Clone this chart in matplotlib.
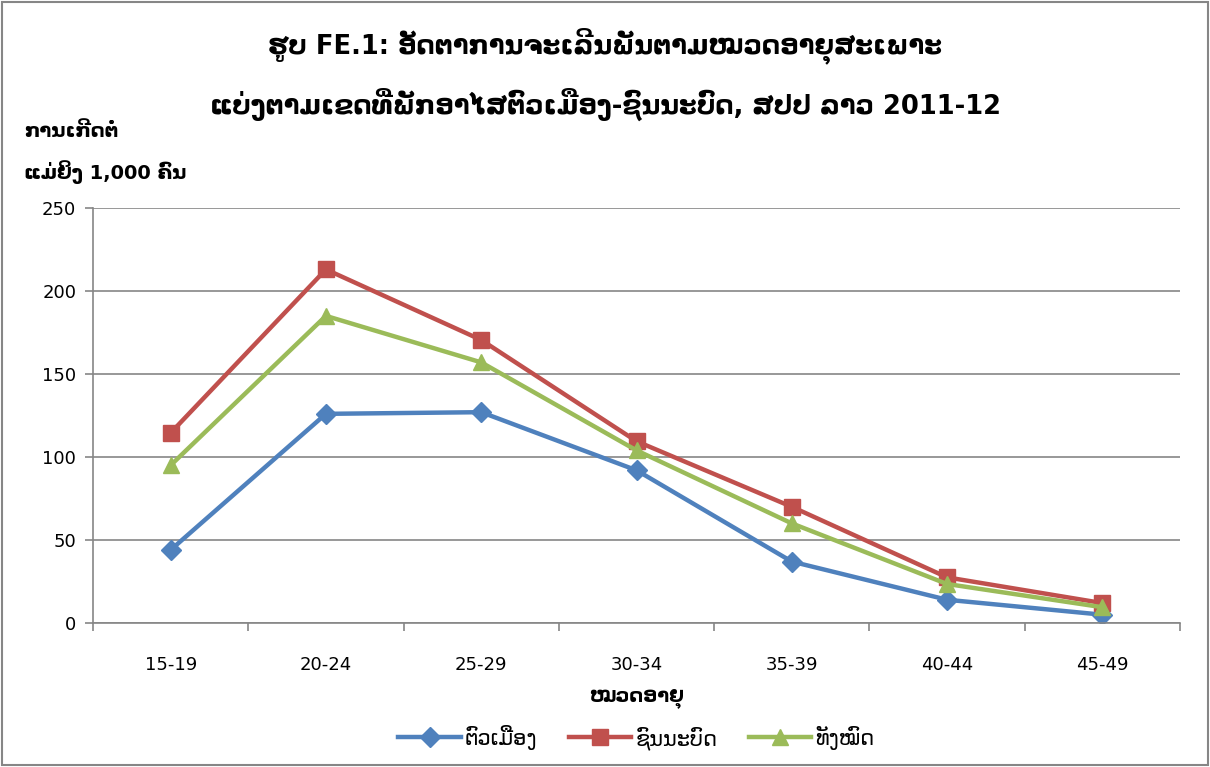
import matplotlib.pyplot as plt
from matplotlib.patches import Rectangle

plt.rcParams['font.family'] = ['DejaVu Sans']

age_groups = ['15-19', '20-24', '25-29', '30-34', '35-39', '40-44', '45-49']
urban = [44, 126, 127, 92, 37, 14, 5]
rural = [114.5, 213, 170.5, 109.5, 70, 27.5, 12]
total = [95, 185, 157, 104, 60, 23.5, 9.5]
series_names = ['ຕົວເມືອງ', 'ຊົນນະບົດ', 'ທັງໝົດ']

title = ('ຮູບ FE.1: ອັດຕາການຈະເລີນພັນຕາມໝວດອາຍຸສະເພາະ\n'
         'ແບ່ງຕາມເຂດທີ່ພັກອາໄສຕົວເມືອງ-ຊົນນະບົດ, ສປປ ລາວ 2011-12')
ylabel = 'ການເກີດຕໍ່\nແມ່ຍິງ 1,000 ຄົນ'
xlabel = 'ໝວດອາຍຸ'

fig = plt.figure(figsize=(12.1, 7.67), dpi=100)
ax = fig.add_axes([93 / 1210, 1 - 623 / 767, 1087 / 1210, 415 / 767])

styles = [('#4F81BD', 'D', 10), ('#C0504D', 's', 11), ('#9BBB59', '^', 12)]
x = range(len(age_groups))
for data, name, (color, marker, ms) in zip([urban, rural, total], series_names, styles):
    ax.plot(x, data, color=color, marker=marker, markersize=ms, linewidth=3.2,
            label=name)

ax.set_xlim(-0.5, len(age_groups) - 0.5)
ax.set_ylim(0, 250)
ax.set_yticks(range(0, 251, 50))
ax.set_xticks(list(x))
ax.set_xticklabels(age_groups)
ax.set_xticks([i + 0.5 for i in range(-1, len(age_groups))], minor=True)
ax.tick_params(axis='x', which='major', length=0, pad=24, labelsize=13)
ax.tick_params(axis='x', which='minor', length=6, color='#868686', width=1.2)
ax.tick_params(axis='y', length=6, color='#868686', width=1.2, labelsize=13, pad=6)
ax.grid(True, axis='y', color='#868686', linewidth=1.2)
ax.set_axisbelow(True)
for side in ['top', 'right']:
    ax.spines[side].set_visible(False)
for side in ['left', 'bottom']:
    ax.spines[side].set_color('#868686')
    ax.spines[side].set_linewidth(1.2)

ax.set_xlabel(xlabel, fontsize=14, fontweight='bold', labelpad=10)

fig.text(0.5, 1 - 74 / 767, title, ha='center', va='center', fontsize=18.5,
         fontweight='bold', linespacing=1.9)
fig.text(24 / 1210, 1 - 153 / 767, ylabel, ha='left', va='center', fontsize=14,
         fontweight='bold', linespacing=2.0)

ax.legend(loc='upper center', bbox_to_anchor=(0.5, -0.2), ncol=3, frameon=False,
          fontsize=15, handlelength=3, columnspacing=1.5, handletextpad=0.2)

fig.patches.append(Rectangle((0.002, 0.002), 0.996, 0.996, transform=fig.transFigure,
                             fill=False, edgecolor='#868686', linewidth=1.5))

fig.savefig('out.png', dpi=100)
